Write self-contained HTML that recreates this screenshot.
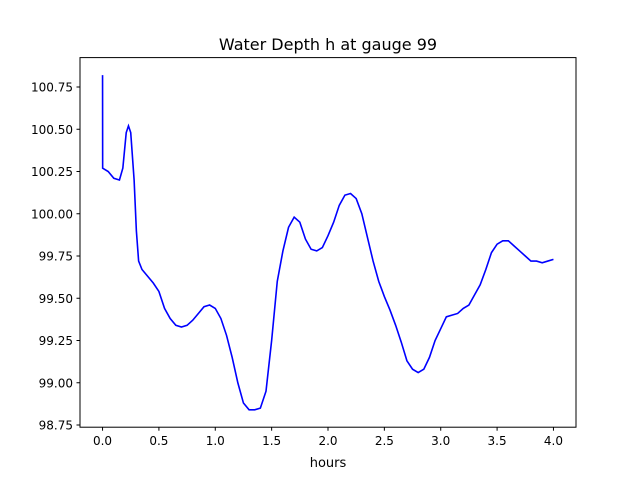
<!DOCTYPE html>
<html><head><meta charset="utf-8"><style>
body{margin:0;background:#fff;}
svg{display:block;font-family:"DejaVu Sans","Liberation Sans",sans-serif;}
</style></head><body>
<svg id="chart" width="640" height="480">
<rect width="640" height="480" fill="#fff"/>
<text x="328" y="50" text-anchor="middle" font-size="16">Water Depth h at gauge 99</text>
<g id="xticks"></g>
<g id="yticks"></g>
<path id="line" fill="none" stroke="#0000ff" stroke-width="1.6"/>
<rect x="80" y="57.6" width="496" height="369.6" fill="none" stroke="#000" stroke-width="1"/>
<text x="328" y="467" text-anchor="middle" font-size="13">hours</text>
</svg>
<script>
const hours=[0,0.001,0.05,0.1,0.15,0.18,0.21,0.23,0.25,0.28,0.3,0.32,0.35,0.4,0.45,0.5,0.55,0.6,0.65,0.7,0.75,0.8,0.85,0.9,0.95,1.0,1.05,1.1,1.15,1.2,1.25,1.3,1.35,1.4,1.45,1.5,1.55,1.6,1.65,1.7,1.75,1.8,1.85,1.9,1.95,2.0,2.05,2.1,2.15,2.2,2.25,2.3,2.35,2.4,2.45,2.5,2.55,2.6,2.65,2.7,2.75,2.8,2.85,2.9,2.95,3.0,3.05,3.1,3.15,3.2,3.25,3.3,3.35,3.4,3.45,3.5,3.55,3.6,3.65,3.7,3.75,3.8,3.85,3.9,3.95,4.0];
const depth=[100.82,100.27,100.25,100.21,100.20,100.27,100.48,100.52,100.48,100.2,99.9,99.72,99.67,99.63,99.59,99.54,99.44,99.38,99.34,99.33,99.34,99.37,99.41,99.45,99.46,99.44,99.38,99.28,99.15,99.0,98.88,98.84,98.84,98.85,98.95,99.25,99.6,99.78,99.92,99.98,99.95,99.85,99.79,99.78,99.8,99.87,99.95,100.05,100.11,100.12,100.09,100.0,99.86,99.72,99.6,99.51,99.43,99.34,99.24,99.13,99.08,99.06,99.08,99.15,99.25,99.32,99.39,99.40,99.41,99.44,99.46,99.52,99.58,99.67,99.77,99.82,99.84,99.84,99.81,99.78,99.75,99.72,99.72,99.71,99.72,99.73];
const xTickLabels=["0.0","0.5","1.0","1.5","2.0","2.5","3.0","3.5","4.0"];
const yTickLabels=["98.75","99.00","99.25","99.50","99.75","100.00","100.25","100.50","100.75"];
const X0=80,X1=576,Y0=427.2,Y1=57.6;
const xmin=-0.2,xmax=4.2,ymin=98.737,ymax=100.924;
const sx=v=>X0+(v-xmin)/(xmax-xmin)*(X1-X0);
const sy=v=>Y0-(v-ymin)/(ymax-ymin)*(Y0-Y1);
const NS="http://www.w3.org/2000/svg";
let d="";
hours.forEach((h,i)=>{d+=(i?"L":"M")+sx(h).toFixed(2)+","+sy(depth[i]).toFixed(2);});
document.getElementById("line").setAttribute("d",d);
const xg=document.getElementById("xticks"),yg=document.getElementById("yticks");
xTickLabels.forEach(l=>{const x=sx(parseFloat(l));
 const t=document.createElementNS(NS,"line");t.setAttribute("x1",x);t.setAttribute("x2",x);t.setAttribute("y1",Y0);t.setAttribute("y2",Y0+3.5);t.setAttribute("stroke","#000");
 
 
 xg.appendChild(t);
 const s=document.createElementNS(NS,"text");s.setAttribute("x",x);s.setAttribute("y",Y0+18);s.setAttribute("text-anchor","middle");s.setAttribute("font-size","12");s.textContent=l;
 
 
 xg.appendChild(s);});
yTickLabels.forEach(l=>{const y=sy(parseFloat(l));
 const t=document.createElementNS(NS,"line");t.setAttribute("x1",X0-3.5);t.setAttribute("x2",X0);t.setAttribute("y1",y);t.setAttribute("y2",y);t.setAttribute("stroke","#000");
 
 
 yg.appendChild(t);
 const s=document.createElementNS(NS,"text");s.setAttribute("x",X0-7);s.setAttribute("y",y+4.5);s.setAttribute("text-anchor","end");s.setAttribute("font-size","12");s.textContent=l;
 
 
 yg.appendChild(s);});
</script>
</body></html>
